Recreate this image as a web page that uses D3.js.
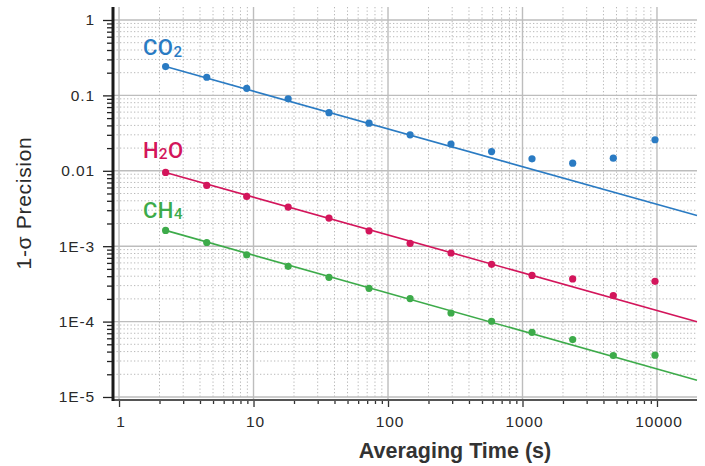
<!DOCTYPE html>
<html><head><meta charset="utf-8">
<script src="https://cdn.jsdelivr.net/npm/d3@7"></script>
<style>body{margin:0;background:#fff}svg{display:block}</style>
</head><body><svg id="c" width="705" height="466"></svg>
<script>
// ---- data ----
const times = [2.22, 4.49, 8.9, 18.1, 36.4, 72.3, 146, 294, 589, 1177, 2361, 4733, 9666];
const co2 = [0.241, 0.174, 0.124, 0.090, 0.059, 0.0428, 0.030, 0.0226, 0.018, 0.0144, 0.0126, 0.0147, 0.0258];
const h2o = [0.0095, 0.00639, 0.00457, 0.00330, 0.00236, 0.00160, 0.00109, 0.000812, 0.000574, 0.000410, 0.000368, 0.000221, 0.000342];
const ch4 = [0.00162, 0.00112, 0.00077, 0.00054, 0.000386, 0.000276, 0.000202, 0.000130, 0.000101, 0.000072, 0.0000578, 0.0000355, 0.0000358];
const fitTimes = [2.22, 19840];
const co2Fit = [0.241, 0.00255];
const h2oFit = [0.0095, 0.0000995];
const ch4Fit = [0.00162, 0.0000167];
const seriesNames = ["CO2", "H2O", "CH4"];
const labelMain = ["CO", "H", "CH"];
const labelSub = ["2", "2", "4"];
const labelTail = ["", "O", ""];
const labelX = [1.51, 1.51, 1.51];
const labelY = [0.343, 0.0148, 0.00237];
const xTicks = [1, 10, 100, 1000, 10000];
const xTickLabels = ["1", "10", "100", "1000", "10000"];
const yTicks = [1, 0.1, 0.01, 0.001, 0.0001, 0.00001];
const yTickLabels = ["1", "0.1", "0.01", "1E-3", "1E-4", "1E-5"];
const xTitle = "Averaging Time (s)";
const yTitle = "1-σ Precision";

// ---- layout ----
const colors = ["#2a7bc3", "#d3155b", "#3dab4a"];
const L = 113, R = 697, T = 7, B = 400;
const font = "'Liberation Sans', Arial, Helvetica, sans-serif";
const labelFont = "Roboto, 'Liberation Sans', Arial, sans-serif";
const svg = d3.select("#c");
const x = d3.scaleLog().domain([0.902, 19840]).range([L, R]);
const y = d3.scaleLog().domain([1.487, 0.00000912]).range([T, B]);

const isMajor = v => Math.abs(Math.log10(v) - Math.round(Math.log10(v))) < 1e-6;
const xAll = x.ticks(40).filter(v => x(v) >= L - 0.5 && x(v) <= R + 0.5);
const yAll = y.ticks(60).filter(v => y(v) >= T - 0.5 && y(v) <= B + 0.5);

const grid = svg.append("g");
// minor grid (dotted)
grid.selectAll(".vx").data(xAll.filter(v => !isMajor(v))).join("line")
  .attr("x1", d => x(d)).attr("x2", d => x(d)).attr("y1", T).attr("y2", B)
  .attr("stroke", "#b8b8b8").attr("stroke-width", 1).attr("stroke-dasharray", "1.3,2.2");
grid.selectAll(".hy").data(yAll.filter(v => !isMajor(v))).join("line")
  .attr("y1", d => y(d)).attr("y2", d => y(d)).attr("x1", L).attr("x2", R)
  .attr("stroke", "#b8b8b8").attr("stroke-width", 1).attr("stroke-dasharray", "1.3,2.2");
// major grid
grid.selectAll(".mx").data(xTicks).join("line")
  .attr("x1", d => x(d)).attr("x2", d => x(d)).attr("y1", T).attr("y2", B)
  .attr("stroke", "#bdbdbd").attr("stroke-width", 1.4);
grid.selectAll(".my").data(yTicks).join("line")
  .attr("y1", d => y(d)).attr("y2", d => y(d)).attr("x1", L).attr("x2", R)
  .attr("stroke", "#bdbdbd").attr("stroke-width", 1.4);

// ---- axes ----
const xAxis = d3.axisBottom(x).tickValues(xAll).tickSize(4).tickFormat("");
const gx = svg.append("g").attr("transform", `translate(0,${B})`).call(xAxis);
gx.select(".domain").remove();
gx.selectAll(".tick line").attr("stroke", "#333").attr("stroke-width", 1.3)
  .attr("y2", d => isMajor(d) ? 7 : 4);
svg.append("line").attr("x1", L).attr("x2", R).attr("y1", B).attr("y2", B)
  .attr("stroke", "#555").attr("stroke-width", 2);

const yAxis = d3.axisLeft(y).tickValues(yAll).tickSize(6).tickFormat("");
const gy = svg.append("g").attr("transform", `translate(${L},0)`).call(yAxis);
gy.select(".domain").remove();
gy.selectAll(".tick line").attr("stroke", "#222").attr("stroke-width", 1.3)
  .attr("x2", d => isMajor(d) ? -10 : -6);
svg.append("line").attr("x1", L).attr("x2", L).attr("y1", T).attr("y2", B + 1)
  .attr("stroke", "#1a1a1a").attr("stroke-width", 3);

// tick labels
svg.selectAll(".xl").data(xTicks).join("text")
  .attr("x", d => x(d) + 2).attr("y", 427)
  .attr("text-anchor", "middle").attr("font-family", font).attr("font-size", 15.5)
  .attr("letter-spacing", 0.9).attr("fill", "#2a2a2a")
  .text((d, i) => xTickLabels[i]);
svg.selectAll(".yl").data(yTicks).join("text")
  .attr("x", 95).attr("y", d => y(d) + 5.5)
  .attr("text-anchor", "end").attr("font-family", font).attr("font-size", 15.5)
  .attr("letter-spacing", 0.9).attr("fill", "#2a2a2a")
  .text((d, i) => yTickLabels[i]);

// titles
svg.append("text").attr("x", 455).attr("y", 458).attr("text-anchor", "middle")
  .attr("font-family", font).attr("font-size", 21.5).attr("font-weight", "bold")
  .attr("fill", "#333").text(xTitle);
svg.append("text").attr("transform", "translate(31,203) rotate(-90)").attr("text-anchor", "middle")
  .attr("font-family", font).attr("font-size", 21).attr("letter-spacing", 0.7)
  .attr("fill", "#2a2a2a").text(yTitle);

// ---- series ----
const all = [co2, h2o, ch4];
const fits = [co2Fit, h2oFit, ch4Fit];
const line = d3.line().x(d => x(d[0])).y(d => y(d[1]));
all.forEach((vals, i) => {
  const g = svg.append("g").attr("class", seriesNames[i]);
  g.append("path").datum(fitTimes.map((t, j) => [t, fits[i][j]]))
    .attr("d", line).attr("fill", "none").attr("stroke", colors[i]).attr("stroke-width", 1.6);
  g.selectAll("circle").data(times.map((t, j) => [t, vals[j]])).join("circle")
    .attr("cx", d => x(d[0])).attr("cy", d => y(d[1])).attr("r", 3.6)
    .attr("fill", colors[i]);
  const t = g.append("text").attr("x", x(labelX[i])).attr("y", y(labelY[i]))
    .attr("font-family", labelFont).attr("font-size", 22).attr("font-weight", 500)
    .attr("fill", colors[i]).attr("letter-spacing", 0.4);
  t.append("tspan").text(labelMain[i]);
  t.append("tspan").attr("font-size", 15).attr("dy", 1.5).text(labelSub[i]);
  if (labelTail[i]) t.append("tspan").attr("dy", -1.5).text(labelTail[i]);
});
</script></body></html>
